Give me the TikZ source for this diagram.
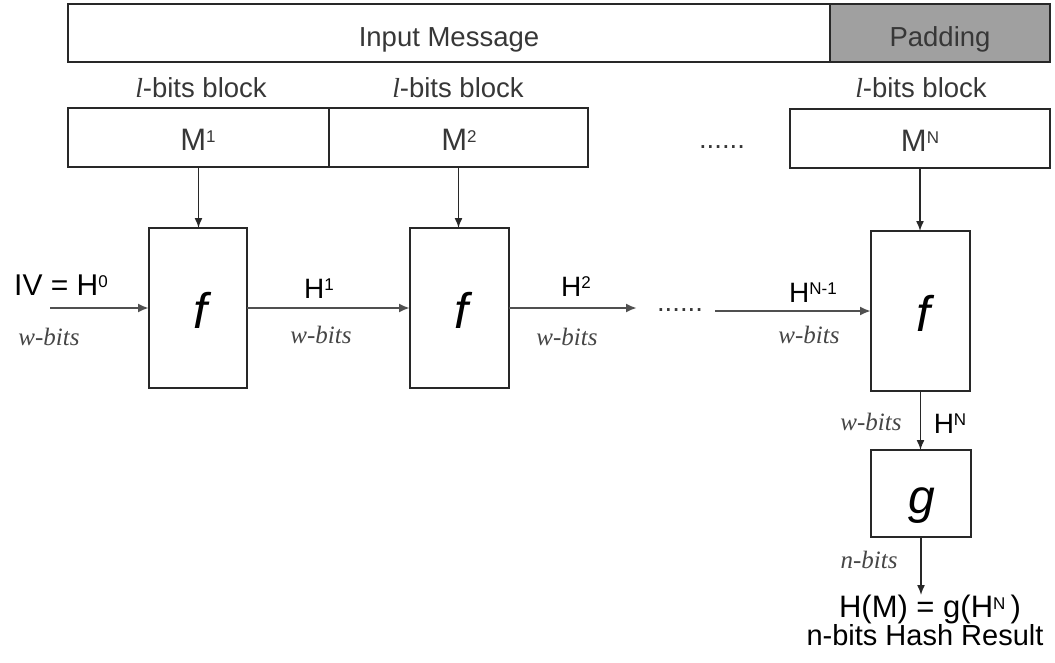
\documentclass[tikz,border=0pt]{standalone}
\usepackage{fontspec}
\setmainfont{Liberation Sans}
\newfontfamily\tms{Liberation Serif}
\usetikzlibrary{arrows.meta}

\definecolor{linec}{RGB}{40,40,40}
\definecolor{flowc}{RGB}{80,80,80}
\definecolor{padc}{RGB}{160,160,160}
\definecolor{softtext}{RGB}{55,55,55}
\definecolor{bitstext}{RGB}{70,70,70}

% raised index in a smaller size
\newcommand\upx[2][7.5pt]{\raisebox{#1}{\fontsize{17}{17}\selectfont #2}}

\tikzset{
  every node/.style={inner sep=0pt, outer sep=0pt},
  bar/.style={draw=linec, line width=1.6pt},
  fbox/.style={draw=linec, line width=1.6pt, minimum width=98pt, minimum height=160pt},
  lab/.style={anchor=base, font=\fontsize{28}{30}\selectfont, text=black},
  softlab/.style={anchor=base, font=\fontsize{27.5}{30}\selectfont, text=softtext},
  bits/.style={anchor=base, font=\fontsize{25}{28}\selectfont\tms\itshape, text=bitstext},
  func/.style={anchor=base, font=\fontsize{50}{52}\selectfont\itshape, text=black},
  flow/.style={draw=flowc, line width=2.6pt, -{Latex[length=11pt,width=9pt]}},
  drop/.style={draw=linec, line width=1.5pt, -{Latex[length=10pt,width=8pt]}},
}

\begin{document}
\begin{tikzpicture}[x=1pt,y=-1pt]
\path[use as bounding box] (0,0) rectangle (1055,662);

% message and padding bar
\node[bar, minimum width=762pt, minimum height=58pt] (msg) at (449,33) {};
\node[bar, fill=padc, minimum width=220pt, minimum height=58pt] (pad) at (940,33) {};
\node[softlab] (msgt) at (449,46) {Input Message};
\node[softlab] (padt) at (940,46) {Padding};

% block labels
\node[softlab] (lb1) at (201,97) {{\tms\itshape l}-bits block};
\node[softlab] (lb2) at (458,97) {{\tms\itshape l}-bits block};
\node[softlab] (lb3) at (921,97) {{\tms\itshape l}-bits block};

% message blocks
\node[bar, minimum width=261pt, minimum height=59pt] (m1) at (198.5,137.5) {};
\node[bar, minimum width=259pt, minimum height=59pt] (m2) at (458.5,137.5) {};
\node[bar, minimum width=260pt, minimum height=59pt] (mN) at (920,138.5) {};
\node[lab, font=\fontsize{31}{32}\selectfont, text=softtext] (m1t) at (198,150) {M\upx[8pt]{1}};
\node[lab, font=\fontsize{31}{32}\selectfont, text=softtext] (m2t) at (459,150) {M\upx[8pt]{2}};
\node[lab, font=\fontsize{31}{32}\selectfont, text=softtext] (mNt) at (920,151) {M\upx[8pt]{N}};
\node[softlab] (dots1) at (722,148) {......};

% compression function boxes
\node[fbox] (f1) at (198,308) {};
\node[fbox, minimum width=99pt] (f2) at (459.5,308) {};
\node[fbox, minimum width=99pt] (f3) at (920.5,311) {};
\node[func] (f1t) at (200,328) {f};
\node[func] (f2t) at (461,328) {f};
\node[func] (f3t) at (923,331) {f};

% finalisation box
\node[bar, minimum width=100pt, minimum height=87pt] (g) at (921,493.5) {};
\node[func, font=\fontsize{48}{50}\selectfont\itshape] (gt) at (922,513) {g};

% chaining-value connectors
\coordinate (iv) at (50,308);
\coordinate (h2end) at (637,308);
\coordinate (hn1) at (715,311);
\coordinate (out) at (921,595);

\draw[drop] (m1.south) -- (m1.south |- f1.north);
\draw[drop] (m2.south) -- (m2.south |- f2.north);
\draw[drop] (mN.south) -- (mN.south |- f3.north);
\draw[flow] (iv) -- (f1.west);
\draw[flow] (f1.east) -- (f2.west);
\draw[flow] (f2.east) -- (h2end);
\draw[flow] (hn1) -- (f3.west);
\draw[drop] (f3.south) -- (f3.south |- g.north);
\draw[drop] (g.south) -- (out);
\node[softlab] (dots2) at (680,311) {......};

% chaining labels
\node[lab, font=\fontsize{30}{32}\selectfont] (ivt) at (61,295) {IV = H\upx[8pt]{0}};
\node[lab] (h1t) at (319,298) {H\upx{1}};
\node[lab] (h2t) at (576,296) {H\upx{2}};
\node[lab] (hn1t) at (813,302) {H\upx{N-1}};
\node[lab] (hnt) at (950,433) {H\upx{N}};

\node[bits] (b0) at (49,345) {w-bits};
\node[bits] (b1) at (321,343) {w-bits};
\node[bits] (b2) at (567,345) {w-bits};
\node[bits] (b3) at (809,343) {w-bits};
\node[bits] (b4) at (871,430) {w-bits};
\node[bits] (b5) at (869,568) {n-bits};

% result
\node[lab, font=\fontsize{31}{32}\selectfont] (res) at (930,617) {H(M) = g(H\upx[8pt]{N}\,)};
\node[lab, font=\fontsize{29}{31}\selectfont] (rest) at (925,645) {n-bits Hash Result};
\end{tikzpicture}
\end{document}
